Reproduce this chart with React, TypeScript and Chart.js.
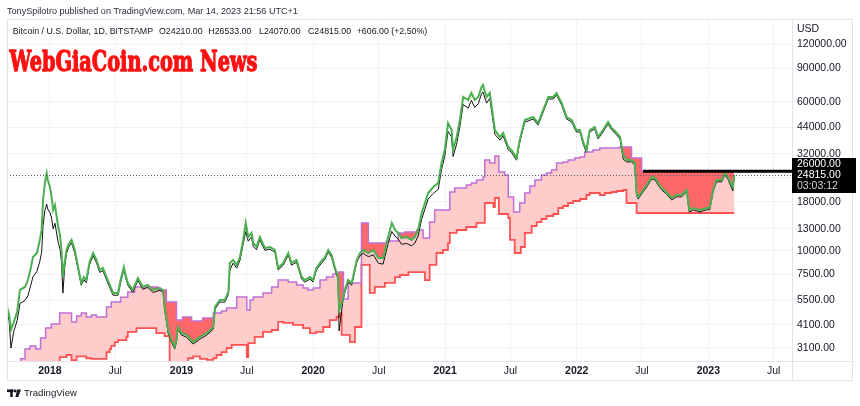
import React, { useEffect, useRef } from 'react';
import { Chart, registerables } from 'chart.js';
Chart.register(...registerables);

// ---------- data ----------
const priceDates = [
  '2017-09-04','2017-09-10','2017-09-15','2017-09-23','2017-10-02','2017-10-10','2017-10-24','2017-11-01',
  '2017-11-09','2017-11-15','2017-11-26','2017-12-04','2017-12-09','2017-12-13','2017-12-18','2017-12-23',
  '2017-12-26','2018-01-01','2018-01-05','2018-01-10','2018-01-15','2018-01-24','2018-01-29','2018-02-02',
  '2018-02-06','2018-02-11','2018-02-16','2018-02-22','2018-03-02','2018-03-11','2018-03-19','2018-03-29',
  '2018-04-05','2018-04-12','2018-04-21','2018-05-01','2018-05-10','2018-05-19','2018-05-28','2018-06-07',
  '2018-06-16','2018-06-25','2018-07-09','2018-07-16','2018-07-25','2018-07-30','2018-08-05','2018-08-19',
  '2018-09-02','2018-09-16','2018-09-29','2018-10-14','2018-11-02','2018-11-11','2018-11-15','2018-11-25',
  '2018-12-04','2018-12-13','2018-12-18','2018-12-22','2019-01-01','2019-01-15','2019-02-02','2019-02-21',
  '2019-03-12','2019-03-30','2019-04-04','2019-04-17','2019-05-01','2019-05-11','2019-05-15','2019-05-24',
  '2019-06-03','2019-06-12','2019-06-21','2019-06-28','2019-07-05','2019-07-14','2019-07-19','2019-07-28',
  '2019-08-06','2019-08-20','2019-09-03','2019-09-17','2019-09-26','2019-10-10','2019-10-24','2019-11-02',
  '2019-11-16','2019-11-30','2019-12-09','2019-12-23','2020-01-01','2020-01-10','2020-01-20','2020-02-03',
  '2020-02-12','2020-02-21','2020-03-01','2020-03-10','2020-03-13','2020-03-23','2020-03-29','2020-04-07',
  '2020-04-17','2020-05-01','2020-05-10','2020-05-19','2020-06-02','2020-06-16','2020-06-30','2020-07-13',
  '2020-07-27','2020-08-06','2020-08-15','2020-08-24','2020-09-02','2020-09-16','2020-09-30','2020-10-09',
  '2020-10-18','2020-10-28','2020-11-06','2020-11-15','2020-11-29','2020-12-13','2020-12-22','2020-12-31',
  '2021-01-09','2021-01-19','2021-01-23','2021-02-02','2021-02-11','2021-02-20','2021-03-06','2021-03-15',
  '2021-03-24','2021-04-03','2021-04-12','2021-04-16','2021-04-26','2021-05-05','2021-05-19','2021-06-02',
  '2021-06-11','2021-06-25','2021-07-04','2021-07-18','2021-07-27','2021-08-10','2021-09-02','2021-09-16',
  '2021-09-30','2021-10-14','2021-10-28','2021-11-06','2021-11-20','2021-12-04','2021-12-18','2021-12-31',
  '2022-01-10','2022-01-19','2022-01-28','2022-02-06','2022-02-20','2022-03-01','2022-03-15','2022-03-29',
  '2022-04-08','2022-04-22','2022-05-01','2022-05-10','2022-05-19','2022-06-02','2022-06-11','2022-06-16',
  '2022-06-20','2022-07-04','2022-07-14','2022-07-28','2022-08-06','2022-08-15','2022-08-24','2022-09-07',
  '2022-09-21','2022-10-05','2022-10-19','2022-11-02','2022-11-09','2022-11-20','2022-12-09','2022-12-27',
  '2023-01-05','2023-01-14','2023-01-24','2023-02-07','2023-02-16','2023-02-25','2023-03-10','2023-03-14',
];

const greenClose = [
  5080, 4610, 3850, 4240, 4780, 6230, 6460, 7020,
  8120, 9260, 9720, 11370, 12820, 18390, 22560, 25450,
  23390, 21500, 19530, 16310, 17320, 13290, 12070, 10080,
  7280, 8720, 10080, 10830, 11370, 10080, 8420, 6780,
  7280, 7020, 8720, 9720, 8940, 7920, 8120, 7280,
  6620, 6010, 6010, 7020, 8210, 7460, 6780, 6230,
  7200, 6460, 6620, 6230, 6380, 6230, 5080, 3850,
  3410, 3140, 3410, 3990, 3710, 3630, 3330, 3540,
  3710, 3990, 5080, 5520, 5520, 6080, 8620, 8940,
  8420, 9260, 11370, 13950, 11780, 12370, 10960, 10450,
  11780, 10320, 10450, 10080, 8120, 8620, 9720, 8620,
  8940, 7280, 7020, 7280, 7020, 8120, 8620, 9260,
  10080, 9490, 8210, 7280, 4900, 5520, 6230, 7020,
  6780, 8940, 9720, 10080, 9720, 10080, 9150, 9150,
  11780, 13950, 12820, 12370, 11640, 11780, 11370, 11780,
  12820, 15730, 17740, 20010, 21500, 22560, 28700, 33560,
  46440, 42690, 33560, 39240, 48150, 63500, 61240, 66630,
  61240, 63500, 71610, 73360, 63500, 66630, 42690, 39240,
  41180, 34800, 33560, 30480, 37850, 48150, 49920, 46440,
  54300, 63500, 63500, 66630, 59080, 49920, 48150, 42690,
  42690, 36950, 33560, 42690, 44260, 39240, 42690, 47000,
  43730, 41180, 39240, 31600, 29760, 29760, 28700, 20010,
  19070, 20740, 22030, 24250, 23960, 22560, 21250, 20250,
  18840, 19530, 19530, 20740, 16310, 16700, 16310, 16700,
  16700, 20740, 23390, 23390, 25450, 23960, 21500, 24815,
];

const blackClose = [
  4780, 4300, 3100, 3800, 4300, 5300, 5500, 5800,
  6600, 7300, 7800, 8800, 9800, 13500, 16200, 17500,
  16500, 15800, 15000, 13000, 13900, 11000, 10200, 8800,
  6000, 8200, 9700, 10400, 11000, 9700, 8150, 6600,
  7050, 6800, 8450, 9400, 8650, 7700, 7850, 7050,
  6400, 5850, 5850, 6800, 7950, 7250, 6600, 6050,
  7000, 6280, 6430, 6050, 6200, 6070, 4950, 3700,
  3320, 3060, 3320, 3880, 3620, 3530, 3250, 3450,
  3620, 3890, 4950, 5380, 5380, 5900, 7900, 8600,
  8100, 8900, 10800, 12600, 11200, 11800, 10500, 10100,
  11400, 10050, 10180, 9820, 7920, 8400, 9480, 8400,
  8700, 7100, 6850, 7100, 6850, 7920, 8400, 9030,
  9830, 9250, 8000, 7100, 3800, 5380, 6070, 6850,
  6600, 8700, 9400, 9700, 9300, 9500, 8600, 8500,
  10900, 12600, 11900, 11500, 10800, 10900, 10600, 10950,
  11900, 14600, 16500, 18600, 19900, 20900, 26500, 31000,
  42000, 39200, 31000, 36000, 44500, 58000, 55500, 61000,
  56000, 58500, 66000, 67500, 59000, 62500, 40500, 37800,
  39800, 33700, 32600, 29700, 36900, 46900, 48700, 45300,
  53000, 62000, 62000, 65000, 57700, 48700, 47000, 41700,
  41700, 36000, 32500, 41700, 43200, 38300, 41700, 45900,
  42700, 40200, 38300, 30000, 29100, 29100, 28000, 19500,
  18600, 20300, 21500, 23700, 23400, 22000, 20800, 19800,
  18400, 19100, 19100, 20300, 15900, 16300, 15950, 16350,
  16350, 20300, 22900, 22900, 24900, 23450, 20500, 24815,
];

const upperDates = [
  '2017-09-26','2017-10-12','2017-10-24','2017-11-07','2017-11-23','2017-12-06','2017-12-20','2018-01-05',
  '2018-01-28','2018-03-02','2018-03-16','2018-03-29','2018-04-12','2018-04-26','2018-05-10','2018-06-07',
  '2018-06-20','2018-07-16','2018-08-05','2018-08-24','2018-10-28','2018-11-20','2018-12-18','2019-01-04',
  '2019-01-29','2019-03-01','2019-03-30','2019-04-22','2019-05-06','2019-06-03','2019-07-01','2019-07-10',
  '2019-07-19','2019-08-15','2019-09-08','2019-09-26','2019-10-24','2019-11-16','2019-12-04','2019-12-18',
  '2020-01-01','2020-01-20','2020-02-07','2020-02-25','2020-03-11','2020-03-25','2020-04-07','2020-05-14',
  '2020-06-02','2020-07-22','2020-08-24','2020-09-11','2020-10-14','2020-11-01','2020-11-19','2020-12-03',
  '2021-01-14','2021-01-28','2021-03-01','2021-03-15','2021-03-29','2021-04-16','2021-04-21','2021-05-05',
  '2021-05-19','2021-05-30','2021-06-15','2021-06-25','2021-07-10','2021-07-27','2021-08-10','2021-08-24',
  '2021-09-07','2021-09-25','2021-10-09','2021-10-23','2021-11-06','2021-11-24','2021-12-08','2021-12-27',
  '2022-01-10','2022-01-23','2022-02-15','2022-03-06','2022-04-30','2022-06-02','2022-06-30','2023-03-14',
];
const upperSpan = [
  2400, 2720, 3060, 3180, 3060, 3500, 3940, 4140,
  4720, 4240, 4560, 4720, 4500, 4610, 4500, 5080,
  5390, 5700, 6080, 6460, 6230, 5390, 4340, 4500,
  4290, 4450, 4720, 4840, 5020, 5730, 4900, 5520,
  5730, 6010, 6460, 7020, 6860, 6620, 6380, 6230,
  6380, 7020, 7280, 7550, 7730, 5590, 6780, 13950,
  10960, 11230, 12370, 12510, 12820, 11640, 14110, 16310,
  20250, 21250, 22030, 22560, 23390, 24250, 29760, 28700,
  31220, 25760, 24850, 19070, 15920, 17740, 20010, 21770,
  23390, 24850, 25450, 26380, 28700, 29050, 29760, 30480,
  30850, 32760, 33560, 34380, 34800, 30480, 26000, 26000,
];

const lowerDates = [
  '2017-09-26','2018-01-28','2018-02-16','2018-03-02','2018-03-16','2018-04-12','2018-04-26','2018-06-07',
  '2018-06-16','2018-06-20','2018-06-30','2018-07-09','2018-08-01','2018-08-05','2018-08-29','2018-10-23',
  '2018-11-15','2018-11-29','2019-01-19','2019-02-02','2019-02-21','2019-03-12','2019-03-30','2019-04-08',
  '2019-04-22','2019-05-06','2019-05-20','2019-07-01','2019-07-05','2019-07-23','2019-08-15','2019-09-08',
  '2019-09-26','2019-10-10','2019-11-06','2019-12-04','2019-12-23','2020-01-10','2020-01-29','2020-02-16',
  '2020-03-06','2020-03-15','2020-03-20','2020-04-12','2020-04-26','2020-05-14','2020-06-06','2020-06-20',
  '2020-07-18','2020-08-15','2020-08-29','2020-09-21','2020-11-06','2020-11-19','2020-12-08','2020-12-26',
  '2021-01-09','2021-01-14','2021-02-02','2021-03-01','2021-03-29','2021-04-21','2021-05-15','2021-05-19',
  '2021-05-30','2021-06-25','2021-06-30','2021-07-13','2021-07-30','2021-08-10','2021-08-29','2021-09-12',
  '2021-09-25','2021-10-09','2021-10-28','2021-11-11','2021-11-24','2021-12-08','2021-12-22','2022-01-10',
  '2022-01-28','2022-02-06','2022-03-06','2022-03-20','2022-04-08','2022-04-22','2022-05-10','2022-05-19',
  '2022-06-16','2023-03-14',
];
const lowerSpan = [
  2000, 2780, 2850, 2680, 2800, 2740, 2720, 2950,
  3060, 3180, 3330, 3410, 3540, 3760, 3940, 3710,
  3580, 2600, 2740, 2800, 2720, 2690, 2740, 2850,
  2950, 3100, 3220, 2780, 3290, 3540, 3760, 3850,
  4240, 4190, 4090, 3940, 3710, 3760, 3990, 4340,
  4500, 4720, 3630, 3330, 3990, 8420, 6010, 6460,
  6780, 7280, 7460, 7730, 7020, 8420, 9720, 10080,
  10960, 12370, 12820, 13290, 13950, 17740, 16910, 18840,
  15540, 14810, 11370, 9720, 10450, 12370, 13450, 14110,
  14630, 15170, 15540, 16700, 17110, 17740, 18170, 18610,
  19530, 20010, 19530, 20010, 20250, 20490, 20740, 17740,
  15730, 15730,
];

const yTicks = [3100, 4100, 5500, 7500, 10000, 13000, 18000, 24000, 32000, 44000, 60000, 90000, 120000];
const xTickDates = ['2018-01-01','2018-07-01','2019-01-01','2019-07-01','2020-01-01','2020-07-01',
  '2021-01-01','2021-07-01','2022-01-01','2022-07-01','2023-01-01','2023-07-01'];
const xTickLabels = ['2018','Jul','2019','Jul','2020','Jul','2021','Jul','2022','Jul','2023','Jul'];

const lastPrice = 24815;
const rayLevel = 26000;
const rayStart = '2022-07-04';
const countdown = '03:03:12';
const xMinDate = '2017-09-04';
const xMaxDate = '2023-08-21';
const yMin = 2651;
const yMax = 162300;

const headerLine = 'TonySpilotro published on TradingView.com, Mar 14, 2023 21:56 UTC+1';
const symbolParts = ['Bitcoin / U.S. Dollar, 1D, BITSTAMP', 'O24210.00', 'H26533.00', 'L24070.00', 'C24815.00', '+606.00 (+2.50%)'];
const watermark = 'WebGiaCoin.com News';

// ---------- helpers ----------
const FONT = '"Liberation Sans", Arial, Helvetica, sans-serif';
const t = (s: string) => Date.parse(s + 'T00:00:00Z');
const pts = (dates: string[], vals: number[]) => dates.map((d, i) => ({ x: t(d), y: vals[i] }));

function fitText(ctx: CanvasRenderingContext2D, text: string, x: number, yMid: number, width: number, weight: string, family: string, color: string) {
  ctx.font = `${weight} 100px ${family}`;
  const w = ctx.measureText(text).width;
  const size = (100 * width) / w;
  ctx.font = `${weight} ${size}px ${family}`;
  ctx.fillStyle = color;
  ctx.textAlign = 'left';
  ctx.textBaseline = 'middle';
  ctx.fillText(text, x, yMid);
  return size;
}

const decoPlugin = {
  id: 'deco',
  afterDatasetsDraw(chart: any) {
    const { ctx, chartArea: a, scales } = chart;
    const x = scales.x, y = scales.y;
    ctx.save();
    ctx.beginPath();
    ctx.rect(a.left, a.top, a.right - a.left, a.bottom - a.top);
    ctx.clip();
    const yp = Math.round(y.getPixelForValue(lastPrice)) + 0.5;
    ctx.setLineDash([1, 2]);
    ctx.strokeStyle = '#555a66';
    ctx.lineWidth = 1;
    ctx.beginPath();
    ctx.moveTo(a.left, yp);
    ctx.lineTo(a.right, yp);
    ctx.stroke();
    ctx.setLineDash([]);
    const yr = y.getPixelForValue(rayLevel);
    ctx.strokeStyle = '#000';
    ctx.lineWidth = 3;
    ctx.beginPath();
    ctx.moveTo(x.getPixelForValue(t(rayStart)), yr);
    ctx.lineTo(a.right, yr);
    ctx.stroke();
    ctx.restore();
  },
  afterDraw(chart: any) {
    const { ctx, scales } = chart;
    const y = scales.y;
    ctx.save();
    // frame
    ctx.strokeStyle = '#e0e3eb';
    ctx.lineWidth = 1;
    ctx.beginPath();
    ctx.moveTo(7, 19.5); ctx.lineTo(853, 19.5);
    ctx.moveTo(7, 380.5); ctx.lineTo(853, 380.5);
    ctx.moveTo(7, 361.5); ctx.lineTo(853, 361.5);
    ctx.moveTo(7.5, 19); ctx.lineTo(7.5, 381);
    ctx.moveTo(852.5, 19); ctx.lineTo(852.5, 381);
    ctx.moveTo(792.5, 19); ctx.lineTo(792.5, 381);
    ctx.stroke();

    // header
    fitText(ctx, headerLine, 7, 11.5, 291, 'normal', FONT, '#2a2e39');
    ctx.font = `normal 100px ${FONT}`;
    const size2 = (100 * 140.6) / ctx.measureText(symbolParts[0]).width;
    const partX = [12.7, 159, 208.3, 259, 308, 356.7];
    ctx.font = `normal ${size2}px ${FONT}`;
    ctx.fillStyle = '#131722';
    ctx.textBaseline = 'middle';
    symbolParts.forEach((p, i) => ctx.fillText(p, partX[i], 31.5));

    // watermark
    ctx.font = `bold 28px "DejaVu Serif", serif`;
    const ww = ctx.measureText(watermark).width;
    ctx.save();
    ctx.translate(9.5, 71);
    ctx.scale(248 / ww, 1);
    ctx.textBaseline = 'alphabetic';
    ctx.fillStyle = '#ff1010';
    ctx.strokeStyle = '#ff1010';
    ctx.lineWidth = 1.3;
    ctx.lineJoin = 'round';
    ctx.strokeText(watermark, 0, 0);
    ctx.fillText(watermark, 0, 0);
    ctx.restore();

    // USD
    ctx.font = `normal 10.5px ${FONT}`;
    ctx.fillStyle = '#131722';
    ctx.textBaseline = 'middle';
    ctx.fillText('USD', 797, 29);

    // price label box
    const yr = y.getPixelForValue(rayLevel);
    const yl = y.getPixelForValue(lastPrice);
    ctx.fillStyle = '#000';
    ctx.fillRect(792, Math.round(yr) - 13, 64, Math.round(yl - yr) + 31);
    ctx.fillStyle = '#ffffff';
    ctx.font = `normal 10.5px ${FONT}`;
    ctx.fillText(rayLevel.toFixed(2), 797, yr - 7);
    ctx.fillText(lastPrice.toFixed(2), 797, yl);
    ctx.fillStyle = '#d1d4dc';
    ctx.fillText(countdown, 797, yl + 11);

    // TradingView logo
    ctx.fillStyle = '#131722';
    ctx.fillRect(7, 389.5, 6.5, 2.6);
    ctx.fillRect(10.2, 389.5, 2.6, 7.5);
    ctx.beginPath();
    ctx.arc(15.2, 391, 1.4, 0, Math.PI * 2);
    ctx.fill();
    ctx.beginPath();
    ctx.moveTo(17.2, 389.5); ctx.lineTo(21, 389.5); ctx.lineTo(18.2, 397); ctx.lineTo(15.3, 397);
    ctx.closePath();
    ctx.fill();
    fitText(ctx, 'TradingView', 24, 393.5, 53, 'normal', FONT, '#131722');
    ctx.restore();
  },
};

export default function App() {
  const ref = useRef<HTMLCanvasElement>(null);
  useEffect(() => {
    const canvas = ref.current!;
    const pink = 'rgba(255, 204, 204, 1)';
    const chart = new Chart(canvas, {
      type: 'line',
      data: {
        datasets: [
          {
            label: 'price',
            data: pts(priceDates, greenClose),
            borderColor: '#4caf50',
            borderWidth: 2,
            pointRadius: 0,
            tension: 0,
            fill: { target: 2, above: 'rgba(0,0,0,0)', below: '#ff6868' },
          },
          {
            label: 'bars',
            data: pts(priceDates, blackClose),
            borderColor: '#111111',
            borderWidth: 1,
            pointRadius: 0,
            tension: 0,
            fill: false,
          },
          {
            label: 'upper',
            data: pts(upperDates, upperSpan),
            borderColor: '#c06fd6',
            borderWidth: 1.5,
            pointRadius: 0,
            stepped: 'before',
            fill: { target: '+1', above: pink, below: pink },
          },
          {
            label: 'lower',
            data: pts(lowerDates, lowerSpan),
            borderColor: '#ff5252',
            borderWidth: 1.8,
            pointRadius: 0,
            stepped: 'before',
            fill: false,
          },
        ],
      } as any,
      options: {
        responsive: false,
        animation: false,
        devicePixelRatio: 1,
        events: [],
        layout: { padding: { left: 7, top: 19, right: 7, bottom: 26 } },
        plugins: {
          legend: { display: false },
          tooltip: { enabled: false },
          filler: { drawTime: 'beforeDatasetsDraw' },
        } as any,
        scales: {
          x: {
            type: 'linear',
            min: t(xMinDate),
            max: t(xMaxDate),
            afterBuildTicks: (s: any) => { s.ticks = xTickDates.map((d) => ({ value: t(d) })); },
            afterFit: (s: any) => { s.height = 19; },
            grid: { color: '#f0f3fa', drawTicks: false },
            border: { display: false },
            ticks: {
              autoSkip: false,
              maxRotation: 0,
              padding: 4,
              color: '#131722',
              font: (c: any) => ({ family: FONT, size: 10.5, weight: c.index % 2 === 0 ? 'bold' : 'normal' }),
              callback: (_v: any, i: number) => xTickLabels[i],
            },
          },
          y: {
            type: 'logarithmic',
            position: 'right',
            min: yMin,
            max: yMax,
            afterBuildTicks: (s: any) => { s.ticks = yTicks.map((v) => ({ value: v })); },
            afterFit: (s: any) => { s.width = 61; },
            grid: { color: '#f0f3fa', drawTicks: false },
            border: { display: false },
            ticks: {
              autoSkip: false,
              padding: 5,
              color: '#131722',
              font: { family: FONT, size: 10.5 },
              callback: (v: any) => Number(v).toFixed(2),
            },
          },
        } as any,
      },
      plugins: [decoPlugin],
    });
    return () => chart.destroy();
  }, []);
  return (
    <div style={{ position: 'absolute', left: 0, top: 0, width: 860, height: 406, background: '#fff' }}>
      <canvas ref={ref} width={860} height={406} style={{ display: 'block' }} />
    </div>
  );
}
